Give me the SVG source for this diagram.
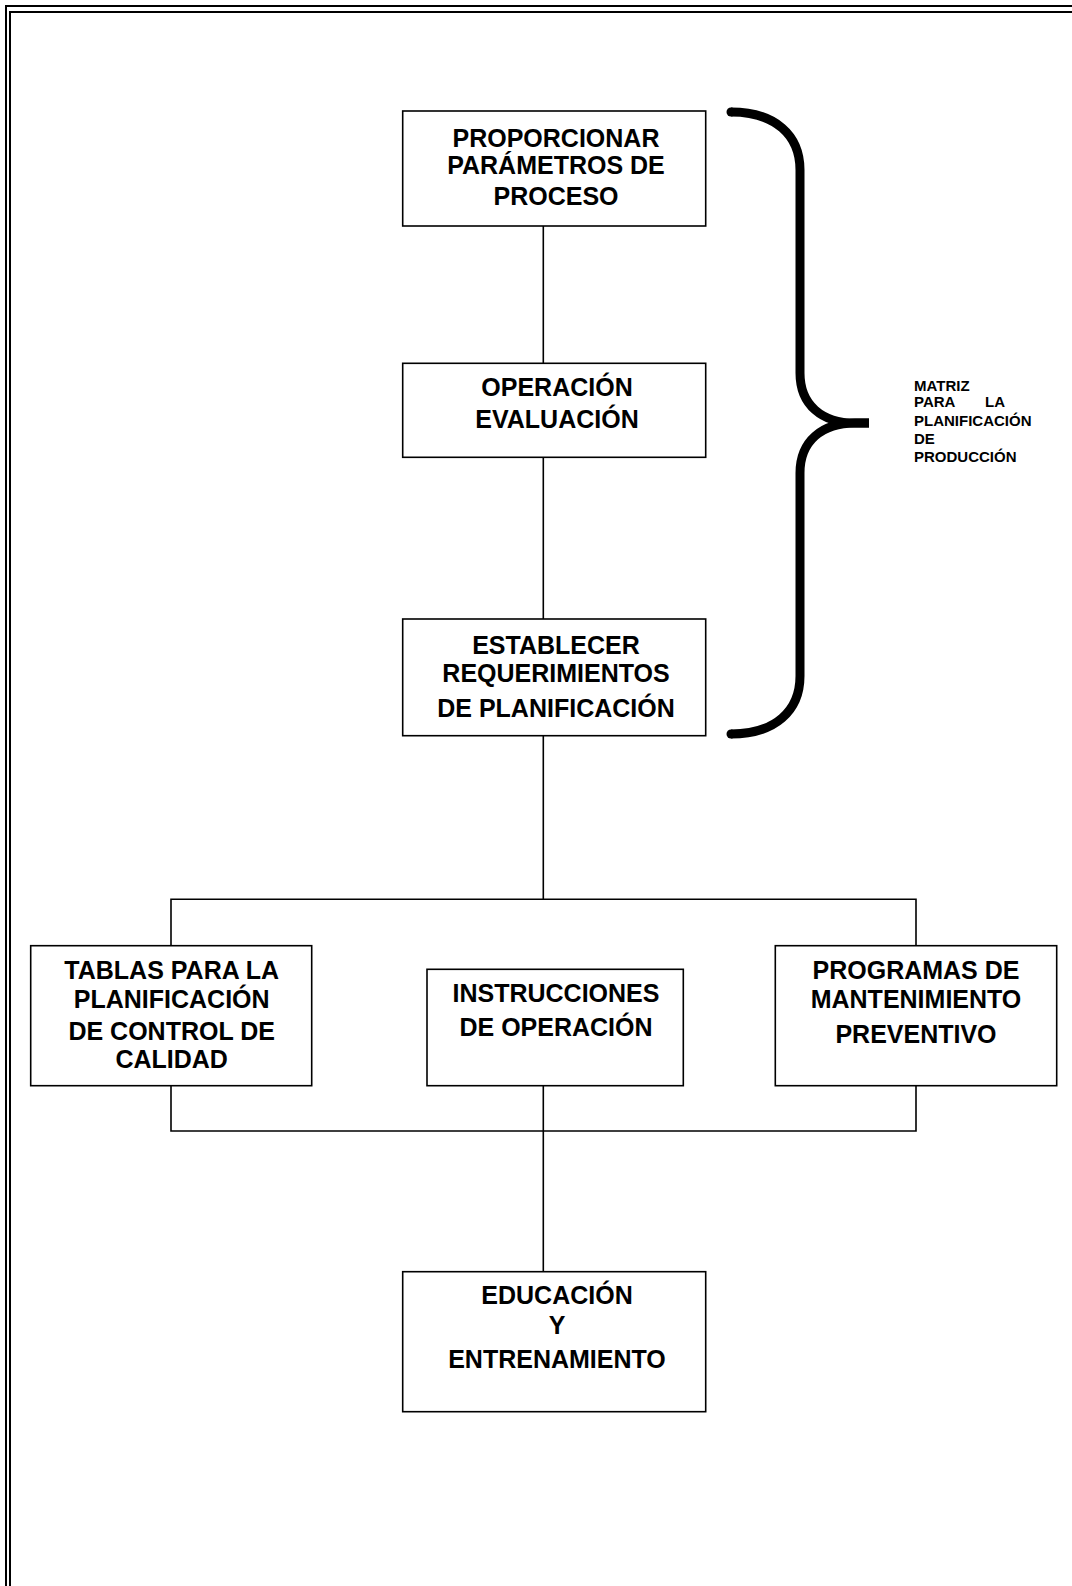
<svg xmlns="http://www.w3.org/2000/svg" width="1072" height="1586" viewBox="0 0 1072 1586">
  <style>
    .frame { fill: none; stroke: #000; stroke-width: 2; }
    .box { fill: #fff; stroke: #000; stroke-width: 1.6; }
    .link { fill: none; stroke: #000; stroke-width: 1.6; }
    .brace { fill: none; stroke: #000; stroke-width: 9; stroke-linecap: butt; }
    .lbl { font-family: "Liberation Sans", Arial, sans-serif; font-weight: bold; font-size: 25px; fill: #000; text-anchor: middle; }
    .note { font-family: "Liberation Sans", Arial, sans-serif; font-weight: bold; font-size: 15px; fill: #000; }
  </style>

  <rect x="0" y="0" width="1072" height="1586" fill="#fff"/>

  <!-- double page frame -->
  <g id="frame">
    <path class="frame" d="M 6 1586 V 6 H 1072"/>
    <path class="frame" d="M 10 1586 V 12 H 1072"/>
  </g>

  <!-- connectors -->
  <g id="connectors">
    <path class="link" d="M 543.3 226 V 363.3"/>
    <path class="link" d="M 543.3 457.3 V 619"/>
    <path class="link" d="M 543.3 736 V 899.3"/>
    <path class="link" d="M 171 945.7 V 899.3 H 916 V 945.7"/>
    <path class="link" d="M 171 1085.7 V 1131 H 916 V 1085.7"/>
    <path class="link" d="M 543.3 1085.7 V 1271.7"/>
  </g>

  <!-- curly brace grouping the first three steps -->
  <g id="brace">
    <path class="brace" d="M 731 112 C 775 112, 800 135, 800 170 L 800 373 C 800 405, 822 423, 855 423 L 869 423"/>
    <path class="brace" d="M 731 734 C 775 734, 800 711, 800 676 L 800 473 C 800 441, 822 423, 855 423 L 869 423"/>
    <circle cx="731" cy="112" r="4.5" fill="#000"/>
    <circle cx="731" cy="734" r="4.5" fill="#000"/>
  </g>

  <g id="brace-label">
    <text class="note" x="914" y="390.7">MATRIZ</text>
    <text class="note" y="407.3"><tspan x="914">PARA</tspan><tspan x="985">LA</tspan></text>
    <text class="note" x="914" y="426">PLANIFICACIÓN</text>
    <text class="note" x="914" y="444">DE</text>
    <text class="note" x="914" y="462.3">PRODUCCIÓN</text>
  </g>

  <g id="node-parametros">
    <rect class="box" x="402.7" y="111" width="303" height="115"/>
    <text class="lbl" x="556" y="147.3">PROPORCIONAR</text>
    <text class="lbl" x="556" y="174">PARÁMETROS DE</text>
    <text class="lbl" x="556" y="205">PROCESO</text>
  </g>

  <g id="node-evaluacion">
    <rect class="box" x="402.7" y="363.3" width="303" height="94"/>
    <text class="lbl" x="557" y="396">OPERACIÓN</text>
    <text class="lbl" x="557" y="428.3">EVALUACIÓN</text>
  </g>

  <g id="node-requerimientos">
    <rect class="box" x="402.7" y="619" width="303" height="116.7"/>
    <text class="lbl" x="556" y="654">ESTABLECER</text>
    <text class="lbl" x="556" y="681.7">REQUERIMIENTOS</text>
    <text class="lbl" x="556" y="717.3">DE PLANIFICACIÓN</text>
  </g>

  <g id="node-tablas">
    <rect class="box" x="30.7" y="945.7" width="281" height="140"/>
    <text class="lbl" x="171.7" y="979.3">TABLAS PARA LA</text>
    <text class="lbl" x="171.7" y="1007.7">PLANIFICACIÓN</text>
    <text class="lbl" x="171.7" y="1040">DE CONTROL DE</text>
    <text class="lbl" x="171.7" y="1067.7">CALIDAD</text>
  </g>

  <g id="node-instrucciones">
    <rect class="box" x="427" y="969.3" width="256.3" height="116.4"/>
    <text class="lbl" x="556" y="1002.3">INSTRUCCIONES</text>
    <text class="lbl" x="556" y="1035.7">DE OPERACIÓN</text>
  </g>

  <g id="node-programas">
    <rect class="box" x="775.3" y="945.7" width="281.4" height="140"/>
    <text class="lbl" x="916" y="979.3">PROGRAMAS DE</text>
    <text class="lbl" x="916" y="1007.7">MANTENIMIENTO</text>
    <text class="lbl" x="916" y="1043.3">PREVENTIVO</text>
  </g>

  <g id="node-educacion">
    <rect class="box" x="402.7" y="1271.7" width="303" height="140"/>
    <text class="lbl" x="557" y="1304">EDUCACIÓN</text>
    <text class="lbl" x="557" y="1334.3">Y</text>
    <text class="lbl" x="557" y="1368.3">ENTRENAMIENTO</text>
  </g>
</svg>
